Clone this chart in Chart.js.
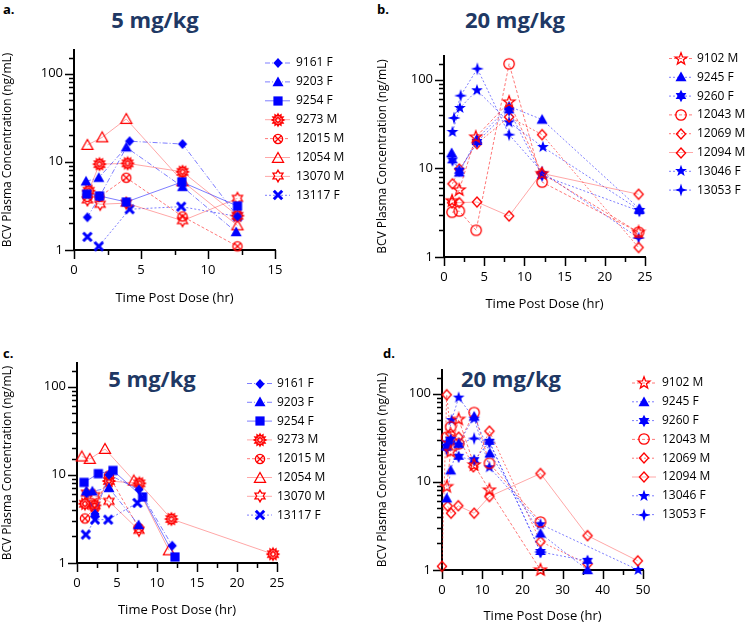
<!DOCTYPE html>
<html>
<head>
<meta charset="utf-8">
<script src="https://cdn.jsdelivr.net/npm/chart.js@4.4.1/dist/chart.umd.min.js"></script>
<style>
body{margin:0;background:#fff;width:750px;height:627px;overflow:hidden;position:relative;font-family:"Open Sans",sans-serif}
canvas{position:absolute;left:0;top:0}
.ttl{position:absolute;width:200px;text-align:center;font-weight:bold;font-size:22px;color:#203864;line-height:26px}
.lbl{position:absolute;font-weight:bold;font-size:13px;color:#000}
</style>
</head>
<body>
<div class="lbl" style="left:3px;top:0px">a.</div>
<div class="lbl" style="left:377px;top:0px">b.</div>
<div class="lbl" style="left:3px;top:344px">c.</div>
<div class="lbl" style="left:383px;top:344px">d.</div>
<div class="ttl" style="left:55px;top:6px">5 mg/kg</div>
<div class="ttl" style="left:415px;top:6px">20 mg/kg</div>
<div class="ttl" style="left:52px;top:365px">5 mg/kg</div>
<div class="ttl" style="left:411px;top:365px">20 mg/kg</div>
<canvas id="ca" width="750" height="627"></canvas>
<canvas id="cb" width="750" height="627"></canvas>
<canvas id="cc" width="750" height="627"></canvas>
<canvas id="cd" width="750" height="627"></canvas>
<script>
// ---- data (hr, ng/mL) ----
const lowIds = ['9161 F', '9203 F', '9254 F', '9273 M', '12015 M', '12054 M', '13070 M', '13117 F'];
const highIds = ['9102 M', '9245 F', '9260 F', '12043 M', '12069 M', '12094 M', '13046 F', '13053 F'];
const yTickLabels = [1, 10, 100];

// panel a
const aTimes = [
  [1.0, 1.9, 4.15, 8.1, 12.2],
  [0.9, 1.85, 3.9, 8.1, 12.1],
  [0.95, 1.9, 3.9, 8.05, 12.2],
  [1.1, 1.9, 4.0, 8.1, 12.2],
  [1.0, 1.9, 3.9, 8.1, 12.2],
  [1.0, 2.1, 3.9, 8.1, 12.2],
  [1.0, 1.95, 3.9, 8.1, 12.2],
  [1.0, 1.85, 4.15, 8.0, 12.2]
];
const aConc = [
  [2.35, 4.0, 17.1, 15.9, 2.4],
  [6.0, 6.6, 14.6, 5.2, 1.6],
  [4.3, 4.1, 3.5, 5.9, 3.15],
  [4.7, 9.4, 9.6, 7.7, 2.45],
  [4.0, 4.0, 6.6, 2.4, 1.1],
  [15.5, 18.9, 30.5, 6.0, 1.9],
  [3.7, 3.3, 3.4, 2.15, 3.85],
  [1.41, 1.1, 2.9, 3.1, 2.4]
];

// panel b
const bTimes = [
  [1.0, 1.9, 3.95, 8.1, 12.2, 24.2],
  [0.95, 1.9, 4.1, 8.1, 12.2, 24.3],
  [1.05, 1.9, 4.1, 8.1, 12.2, 24.3],
  [1.0, 1.9, 4.0, 8.1, 12.2, 24.2],
  [1.05, 1.9, 4.1, 8.1, 12.2, 24.2],
  [1.0, 1.9, 4.1, 8.1, 12.1, 24.2],
  [1.05, 1.98, 4.1, 8.1, 12.3, 24.3],
  [1.25, 2.07, 4.15, 8.1, 12.2, 24.2]
];
const bConc = [
  [4.3, 5.7, 22.5, 56, 8.7, 1.9],
  [14.9, 9.0, 21.5, 50, 35.5, 3.5],
  [12.3, 9.4, 19.8, 45, 8.3, 3.3],
  [3.2, 3.3, 2.0, 151, 7.0, 1.9],
  [6.7, 9.8, 19.0, 38, 24, 1.28],
  [4.1, 4.1, 4.17, 2.9, 8.8, 5.1],
  [25.7, 48, 76, 33, 17.4, 3.4],
  [37, 66, 133, 24, 9.1, 1.64]
];

// panel c
const cTimes = [
  [1.2, 2.25, 4.0, 7.75, 11.9],
  [1.17, 1.92, 4.0, 7.7],
  [0.88, 2.67, 4.5, 8.2, 12.25],
  [1.0, 2.2, 4.0, 7.8, 11.8, 24.5],
  [1.0, 2.2, 4.0, 7.7],
  [0.6, 1.6, 3.5, 7.1, 11.5],
  [1.2, 2.2, 4.0, 7.75],
  [1.1, 2.25, 3.9, 7.55]
];
const cConc = [
  [6.2, 3.6, 10.0, 6.8, 1.57],
  [6.5, 6.5, 7.1, 2.7],
  [8.2, 10.3, 11.2, 5.6, 1.17],
  [4.7, 4.5, 8.5, 8.0, 3.15, 1.26],
  [3.2, 4.2, 9.8, 2.5],
  [16.1, 15.1, 19.6, 8.6, 1.39],
  [6.2, 5.8, 5.0, 2.35],
  [2.1, 3.1, 3.1, 4.8]
];

// panel d
const dTimes = [
  [1.17, 2.16, 4.15, 8.0, 11.8, 24.5],
  [1.17, 2.16, 4.15, 8.0, 11.9, 24.5, 36.2],
  [1.17, 2.16, 4.15, 8.0, 11.8, 24.5, 36.2],
  [1.17, 2.16, 4.15, 8.0, 11.8, 24.5],
  [0, 1.17, 2.16, 4.15, 7.8, 11.8, 24.5, 36.2],
  [1.4, 2.24, 4.05, 8.0, 11.8, 24.5, 36.2, 48.7],
  [1.17, 2.4, 4.15, 8.0, 11.8, 24.5, 48.8],
  [1.17, 2.16, 4.15, 8.0, 11.8, 24.5]
];
const dConc = [
  [8.8, 22, 51, 15.5, 8.05, 1.0],
  [6.5, 13.5, 27, 55, 21, 2.6, 1.0],
  [25, 30, 19.2, 17.6, 28.4, 1.6, 1.27],
  [32, 42, 27, 61, 16.2, 3.5],
  [1.1, 97, 35, 32, 14.8, 37.5, 2.1, 1.17],
  [5.3, 4.4, 5.35, 4.4, 6.8, 12.4, 2.45, 1.27],
  [28, 50, 90, 52, 14.6, 3.3, 1.0],
  [23, 27, 27, 31, 28, 1.6]
];

// ---- styles ----
const BLUE = '#0000ff';
const RED = '#ff0000';
const blueLine = 'rgba(40,40,255,0.6)';
const redLine = 'rgba(255,30,30,0.6)';
const pinkLine = 'rgba(255,60,60,0.45)';

const styles = {
  '9161 F': {shape: 'diamond', color: BLUE, fill: true, line: blueLine, dash: [5, 2, 1, 2]},
  '9203 F': {shape: 'triangle', color: BLUE, fill: true, line: blueLine, dash: [5, 2, 1, 2]},
  '9254 F': {shape: 'square', color: BLUE, fill: true, line: blueLine, dash: []},
  '9273 M': {shape: 'gear', color: RED, fill: false, line: pinkLine, dash: []},
  '12015 M': {shape: 'xcircle', color: RED, fill: false, line: redLine, dash: [3, 2]},
  '12054 M': {shape: 'triangle', color: RED, fill: false, line: pinkLine, dash: []},
  '13070 M': {shape: 'david', color: RED, fill: false, line: pinkLine, dash: []},
  '13117 F': {shape: 'xfill', color: BLUE, fill: true, line: blueLine, dash: [2, 2]},
  '9102 M': {shape: 'star5', color: RED, fill: false, line: redLine, dash: [3, 2]},
  '9245 F': {shape: 'triangle', color: BLUE, fill: true, line: blueLine, dash: [2, 2]},
  '9260 F': {shape: 'star6', color: BLUE, fill: true, line: blueLine, dash: [2, 2]},
  '12043 M': {shape: 'circle', color: RED, fill: false, line: redLine, dash: [3, 2]},
  '12069 M': {shape: 'diamond', color: RED, fill: false, line: redLine, dash: [2, 2]},
  '12094 M': {shape: 'diamond', color: RED, fill: false, line: pinkLine, dash: []},
  '13046 F': {shape: 'star5', color: BLUE, fill: true, line: blueLine, dash: [2, 2]},
  '13053 F': {shape: 'star4', color: BLUE, fill: true, line: blueLine, dash: [2, 2]}
};

function starPath(g, n, ro, ri) {
  g.beginPath();
  for (let k = 0; k < n * 2; k++) {
    const r = k % 2 ? ri : ro;
    const a = -Math.PI / 2 + k * Math.PI / n;
    g.lineTo(r * Math.cos(a), r * Math.sin(a));
  }
  g.closePath();
}

function makeMarker(st) {
  const s = 16;
  const c = document.createElement('canvas');
  c.width = s; c.height = s;
  const g = c.getContext('2d');
  g.translate(s / 2, s / 2);
  g.strokeStyle = st.color;
  g.fillStyle = st.color;
  g.lineWidth = 1.3;
  const paint = () => { if (st.fill) g.fill(); else g.stroke(); };
  switch (st.shape) {
    case 'diamond':
      g.beginPath(); g.moveTo(0, -5); g.lineTo(4.6, 0); g.lineTo(0, 5); g.lineTo(-4.6, 0); g.closePath(); paint(); break;
    case 'triangle':
      g.beginPath(); g.moveTo(0, -5.5); g.lineTo(5.5, 4.3); g.lineTo(-5.5, 4.3); g.closePath(); paint(); break;
    case 'square':
      g.fillRect(-4.6, -4.6, 9.2, 9.2); break;
    case 'circle':
      g.beginPath(); g.arc(0, 0, 5.2, 0, Math.PI * 2); g.stroke(); break;
    case 'gear':
      g.lineWidth = 1.5; starPath(g, 12, 5.8, 4.0); g.stroke();
      g.beginPath(); g.arc(0, 0, 2.2, 0, Math.PI * 2); g.stroke(); break;
    case 'xcircle':
      g.beginPath(); g.arc(0, 0, 4.6, 0, Math.PI * 2); g.stroke();
      g.beginPath(); g.moveTo(-3, -3); g.lineTo(3, 3); g.moveTo(-3, 3); g.lineTo(3, -3); g.stroke(); break;
    case 'david':
      starPath(g, 6, 5.8, 3.3); g.stroke(); break;
    case 'xfill':
      g.lineWidth = 3; g.beginPath(); g.moveTo(-4.2, -4.2); g.lineTo(4.2, 4.2); g.moveTo(-4.2, 4.2); g.lineTo(4.2, -4.2); g.stroke(); break;
    case 'star5':
      starPath(g, 5, 6.2, 2.6); paint(); break;
    case 'star6':
      starPath(g, 6, 6.2, 3.4); g.fill(); break;
    case 'star4':
      starPath(g, 4, 6.5, 2.2); g.fill(); break;
  }
  return c;
}

const markers = {};
Object.keys(styles).forEach(k => { markers[k] = makeMarker(styles[k]); });

Chart.defaults.font.family = '"Open Sans", sans-serif';
Chart.defaults.color = '#000';

const tickMarks = {
  id: 'tickMarks',
  beforeDatasetsDraw(chart, args, o) {
    const {ctx, chartArea: ca, scales: {x, y}} = chart;
    ctx.save();
    ctx.strokeStyle = '#000';
    ctx.lineWidth = 1.5;
    ctx.beginPath();
    y.ticks.forEach(t => {
      if (t.value >= y.max) return;
      const p = Math.round(y.getPixelForValue(t.value)) + 0.5;
      const len = yTickLabels.includes(t.value) ? 9 : 5;
      ctx.moveTo(ca.left - len, p); ctx.lineTo(ca.left, p);
    });
    x.ticks.forEach(t => {
      const p = Math.round(x.getPixelForValue(t.value)) + 0.5;
      const len = t.value % o.major === 0 ? 9 : 5;
      ctx.moveTo(p, ca.bottom); ctx.lineTo(p, ca.bottom + len);
    });
    ctx.stroke();
    ctx.restore();
  }
};

const pkLegend = {
  id: 'pkLegend',
  afterDraw(chart, args, o) {
    const ctx = chart.ctx;
    chart.data.datasets.forEach((ds, i) => {
      const yy = o.y + i * o.step;
      ctx.save();
      ctx.strokeStyle = ds.borderColor;
      ctx.lineWidth = 1;
      ctx.setLineDash(ds.borderDash);
      ctx.beginPath(); ctx.moveTo(o.x, yy); ctx.lineTo(o.x + o.w, yy); ctx.stroke();
      ctx.setLineDash([]);
      const img = ds.pointStyle;
      ctx.drawImage(img, Math.round(o.x + o.w / 2 - img.width / 2), Math.round(yy - img.height / 2));
      ctx.fillStyle = '#000';
      ctx.font = '12px "Open Sans", sans-serif';
      ctx.textBaseline = 'middle';
      ctx.fillText(ds.label, o.tx, yy);
      ctx.restore();
    });
  }
};

function makeChart(id, ids, times, conc, cfg) {
  const datasets = ids.map((name, i) => ({
    label: name,
    data: times[i].map((t, j) => ({x: t, y: conc[i][j]})),
    showLine: true,
    clip: false,
    borderColor: styles[name].line,
    borderWidth: 1,
    borderDash: styles[name].dash,
    backgroundColor: styles[name].color,
    pointStyle: markers[name],
    pointRadius: 5,
    pointHoverRadius: 5
  }));
  return new Chart(document.getElementById(id), {
    type: 'scatter',
    data: {datasets},
    options: {
      responsive: false,
      animation: false,
      events: [],
      layout: {padding: {left: cfg.padLeft, right: 750 - cfg.right, top: cfg.top, bottom: 627 - cfg.bottom - cfg.xh}},
      plugins: {
        legend: {display: false},
        tooltip: {enabled: false},
        tickMarks: {major: cfg.xmajor},
        pkLegend: cfg.legend
      },
      scales: {
        x: {
          type: 'linear', min: 0, max: cfg.xmax,
          afterFit: s => { s.height = cfg.xh; },
          ticks: {stepSize: cfg.xstep, autoSkip: false, maxRotation: 0, padding: 3, font: {size: 13},
            callback: v => (v % cfg.xmajor === 0 ? String(v) : '')},
          grid: {drawOnChartArea: false, tickLength: 9, tickColor: 'rgba(0,0,0,0)'},
          border: {color: '#000', width: 2},
          title: {display: true, text: 'Time Post Dose (hr)', font: {size: 13}, padding: 0, color: '#000'}
        },
        y: {
          type: 'logarithmic', min: 1, max: 185,
          afterFit: s => { s.width = cfg.left - cfg.padLeft; },
          ticks: {autoSkip: false, padding: 2, font: {size: 13},
            callback: v => (yTickLabels.includes(v) ? String(v) : '')},
          grid: {drawOnChartArea: false, tickLength: 9, tickColor: 'rgba(0,0,0,0)'},
          border: {color: '#000', width: 2},
          title: {display: true, text: 'BCV Plasma Concentration (ng/mL)', font: {size: 12}, padding: 0, color: '#000'}
        }
      }
    },
    plugins: [tickMarks, pkLegend]
  });
}

makeChart('ca', lowIds, aTimes, aConc, {
  padLeft: 0, left: 74, right: 275, top: 50, bottom: 250, xh: 56, xmax: 15, xstep: 2.5, xmajor: 5,
  legend: {x: 265, w: 25, tx: 296, y: 63, step: 18.9}
});
makeChart('cb', highIds, bTimes, bConc, {
  padLeft: 375, left: 444, right: 645, top: 56, bottom: 257, xh: 55, xmax: 25, xstep: 2.5, xmajor: 5,
  legend: {x: 669, w: 24, tx: 697, y: 58.5, step: 18.8}
});
makeChart('cc', lowIds, cTimes, cConc, {
  padLeft: 0, left: 77, right: 277, top: 363, bottom: 563, xh: 55, xmax: 25, xstep: 2.5, xmajor: 5,
  legend: {x: 247, w: 25, tx: 277, y: 383.5, step: 18.8}
});
makeChart('cd', highIds, dTimes, dConc, {
  padLeft: 375, left: 442, right: 643, top: 370, bottom: 570, xh: 54, xmax: 50, xstep: 5, xmajor: 10,
  legend: {x: 632, w: 24, tx: 662, y: 383, step: 18.8}
});
</script>
</body>
</html>
